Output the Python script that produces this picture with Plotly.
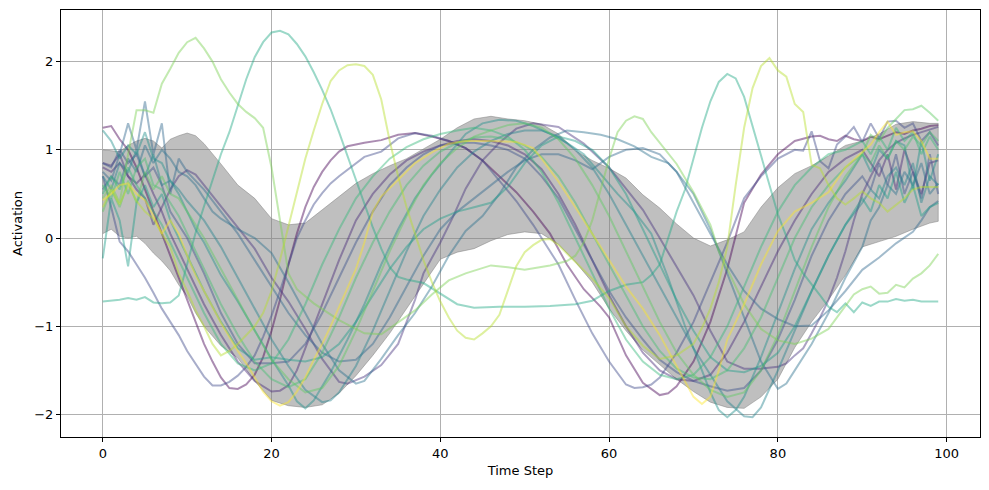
import plotly.graph_objects as go

# ---- band (mean +/- std) ----
band_t = [0, 1, 2, 3, 4, 5, 6, 7, 8, 9, 10, 11, 12, 14, 16, 18, 20, 22, 24, 26, 28, 30, 32, 34, 36, 38, 40,
          42, 44, 46, 48, 50, 52, 54, 56, 58, 60, 62, 64, 66, 68, 70, 72, 74, 76, 78, 80, 82, 84, 86, 88,
          90, 92, 94, 96, 98, 99]
band_upper = [1.0, 0.99, 0.98, 1.05, 1.1, 1.13, 1.1, 1.02, 1.12, 1.16, 1.19, 1.16, 1.07, 0.84, 0.6, 0.45, 0.22,
              0.15, 0.17, 0.32, 0.47, 0.62, 0.73, 0.82, 0.9, 1.01, 1.12, 1.25, 1.35, 1.38, 1.35, 1.33, 1.29,
              1.18, 0.99, 0.88, 0.79, 0.68, 0.49, 0.34, 0.16, 0.0, -0.09, -0.02, 0.07, 0.35, 0.57, 0.73,
              0.82, 0.93, 1.05, 1.1, 1.18, 1.29, 1.32, 1.3, 1.3]
band_lower = [0.05, 0.1, 0.02, 0.0, 0.02, -0.06, -0.17, -0.26, -0.37, -0.53, -0.66, -0.85, -1.0, -1.22, -1.36,
              -1.62, -1.84, -1.9, -1.92, -1.89, -1.76, -1.56, -1.33, -1.08, -0.8, -0.52, -0.24, -0.16, -0.12,
              -0.03, 0.04, 0.07, 0.05, -0.07, -0.27, -0.5, -0.8, -1.05, -1.27, -1.43, -1.6, -1.74, -1.86,
              -1.92, -1.93, -1.8, -1.6, -1.24, -0.95, -0.7, -0.42, -0.1, -0.04, 0.02, 0.1, 0.17, 0.19]

# ---- individual activation traces: (time step, value) readings ----
T1 = [(0,-0.72),(1,-0.71),(2,-0.70),(3,-0.68),(4,-0.70),(5,-0.67),(6,-0.73),(7,-0.74),(8,-0.73),(9,-0.65),(10,-0.28),(11,0.06),(12,0.36),(13,0.66),(14,0.95),(15,1.2),(16,1.5),(17,1.8),(18,2.05),(19,2.22),(20,2.33),(21,2.35),(22,2.31),(23,2.2),(24,2.06),(25,1.88),(26,1.68),(27,1.46),(28,1.2),(29,0.93),(30,0.66),(31,0.38),(32,0.12),(33,-0.12),(34,-0.33),(35,-0.44),(36,-0.47),(38,-0.51),(40,-0.63),(42,-0.75),(44,-0.79),(47,-0.78),(50,-0.78),(53,-0.77),(56,-0.75),(58,-0.71),(60,-0.6),(62,-0.53),(64,-0.5),(65,-0.42),(66,-0.3),(67,0.0),(68,0.3),(69,0.55),(70,0.9),(71,1.25),(72,1.55),(73,1.77),(74,1.86),(75,1.81),(76,1.6),(77,1.27),(78,0.92),(79,0.58),(80,0.27),(81,0.02),(82,-0.25),(83,-0.4),(84,-0.52),(85,-0.65),(86,-0.78),(87,-0.84),(88,-0.74),(89,-0.84),(90,-0.73),(91,-0.77),(92,-0.72),(93,-0.72),(94,-0.69),(95,-0.71),(96,-0.7),(97,-0.72),(98,-0.72),(99,-0.72)]
G1 = [(0,0.45),(1,0.6),(2,0.4),(3,0.95),(4,1.45),(5,1.45),(6,1.42),(7,1.75),(8,1.92),(9,2.1),(10,2.22),(11,2.27),(12,2.15),(13,2.0),(14,1.8),(15,1.65),(16,1.52),(17,1.43),(18,1.36),(19,1.25),(20,0.8),(21,0.2),(22,-0.4),(23,-0.58),(25,-0.74),(28,-0.93),(31,-1.08),(33,-1.09),(35,-0.95),(37,-0.82),(39,-0.64),(41,-0.48),(43,-0.4),(46,-0.31),(48,-0.33),(50,-0.36),(53,-0.31),(55,-0.26),(56,-0.2),(57,-0.05),(58,0.2),(59,0.55),(60,0.9),(61,1.2),(62,1.33),(63,1.38),(64,1.35),(65,1.2),(66,1.08),(68,0.84),(70,0.52),(72,0.15),(73,-0.15),(74,-0.35),(76,-0.75),(78,-1.03),(80,-1.16),(82,-1.2),(84,-1.14),(86,-1.03),(87,-0.9),(88,-0.78),(89,-0.64),(90,-0.58),(91,-0.55),(92,-0.63),(93,-0.62),(94,-0.53),(95,-0.56),(96,-0.46),(97,-0.4),(98,-0.31),(99,-0.18)]
Y1 = [(0,0.35),(1,0.55),(2,0.38),(3,0.6),(4,0.42),(5,0.3),(6,0.22),(7,0.05),(8,-0.1),(9,-0.4),(10,-0.6),(11,-0.82),(12,-1.0),(13,-1.2),(14,-1.33),(15,-1.28),(16,-1.2),(17,-1.1),(18,-1.0),(19,-0.85),(20,-0.6),(21,-0.25),(22,0.13),(23,0.5),(24,0.9),(25,1.22),(26,1.52),(27,1.78),(28,1.9),(29,1.96),(30,1.97),(31,1.95),(32,1.85),(33,1.57),(34,1.1),(35,0.7),(36,0.35),(37,0.05),(38,-0.25),(39,-0.5),(40,-0.72),(41,-0.9),(42,-1.05),(43,-1.13),(44,-1.15),(45,-1.08),(46,-1.0),(47,-0.87),(48,-0.6),(49,-0.32),(50,-0.16),(51,-0.08),(52,-0.02),(53,-0.01),(54,-0.08),(56,-0.27),(58,-0.46),(60,-0.68),(62,-1.0),(64,-1.22),(66,-1.37),(68,-1.33),(70,-1.2),(71,-1.02),(72,-0.8),(73,-0.5),(74,-0.1),(75,0.6),(76,1.25),(77,1.7),(78,1.95),(79,2.04),(80,1.9),(81,1.83),(82,1.52),(83,1.43),(84,0.83),(85,0.79),(86,0.6),(87,0.45),(88,0.38),(89,0.45),(90,0.53),(91,0.45),(92,0.4),(93,0.3),(94,0.38),(95,0.45),(96,0.55),(97,0.58),(98,0.58),(99,0.58)]
B1 = [(0,0.7),(1,0.35),(2,-0.04),(3,-0.15),(4,-0.3),(5,-0.45),(6,-0.62),(7,-0.8),(8,-0.95),(9,-1.1),(10,-1.28),(11,-1.42),(12,-1.57),(13,-1.67),(14,-1.67),(15,-1.63),(16,-1.56),(17,-1.46),(18,-1.33),(19,-1.12),(20,-0.88),(21,-0.6),(22,-0.3),(23,0.0),(24,0.2),(25,0.38),(26,0.51),(27,0.62),(28,0.7),(29,0.77),(31,0.92),(33,0.98),(35,1.13),(37,1.19),(39,1.16),(41,1.1),(43,1.02),(45,0.88),(47,0.65),(49,0.42),(51,0.15),(53,-0.15),(54,-0.3),(56,-0.7),(58,-1.08),(60,-1.4),(62,-1.66),(63,-1.7),(64,-1.69),(65,-1.66),(66,-1.58),(68,-1.3),(70,-0.95),(72,-0.5),(74,-0.05),(76,0.45),(78,0.7),(80,0.9),(82,1.0),(83,0.99),(84,1.21),(85,0.87),(86,0.79),(87,1.06),(88,1.15),(89,1.26),(90,1.09),(91,1.3),(92,1.13),(93,1.32),(94,1.33),(95,1.25),(96,1.3),(97,1.1),(98,1.2),(99,1.05)]
P1 = [(0,1.25),(1,1.27),(2,1.12),(3,1.0),(4,0.8),(5,0.55),(6,0.3),(7,0.05),(8,-0.2),(9,-0.45),(10,-0.7),(11,-0.95),(12,-1.2),(13,-1.4),(14,-1.58),(15,-1.7),(16,-1.71),(17,-1.66),(18,-1.55),(19,-1.35),(20,-1.05),(21,-0.7),(22,-0.3),(23,0.05),(24,0.35),(25,0.58),(26,0.75),(27,0.88),(28,0.98),(29,1.04),(31,1.08),(33,1.11),(35,1.17),(37,1.19),(39,1.15),(41,1.1),(43,1.02),(45,0.88),(47,0.7),(49,0.52),(51,0.3),(53,0.05),(55,-0.3),(57,-0.58),(59,-0.78),(60,-0.9),(62,-1.33),(64,-1.64),(66,-1.78),(67,-1.76),(68,-1.68),(70,-1.4),(72,-0.95),(74,-0.35),(76,0.4),(78,0.72),(80,0.95),(82,1.1),(84,1.15),(85,1.16),(86,1.12),(87,1.1),(88,1.16),(89,1.12),(90,1.1),(91,1.15),(92,1.12),(93,1.16),(94,1.2),(95,1.18),(96,1.22),(97,1.24),(98,1.27),(99,1.28)]
Y2 = [(0,0.43),(1,0.5),(2,0.6),(3,0.62),(4,0.5),(5,0.43),(6,0.25),(7,0.05),(8,0.2),(9,0.05),(10,-0.2),(11,-0.42),(12,-0.6),(13,-0.78),(14,-0.96),(15,-1.12),(16,-1.28),(17,-1.42),(18,-1.58),(19,-1.74),(20,-1.85),(21,-1.9),(22,-1.86),(23,-1.74),(24,-1.58),(25,-1.38),(26,-1.2),(27,-1.0),(28,-0.78),(29,-0.57),(30,-0.35),(31,-0.05),(32,0.3),(33,0.47),(35,0.66),(37,0.85),(39,0.97),(41,1.07),(43,1.1),(46,1.1),(49,1.09),(51,1.02),(52,0.9),(54,0.64),(56,0.35),(58,0.05),(60,-0.25),(62,-0.55),(64,-0.8),(66,-1.1),(68,-1.45),(70,-1.8),(71,-1.88),(72,-1.8),(73,-1.5),(74,-1.15),(76,-0.75),(78,-0.3),(80,0.08),(82,0.3),(84,0.4),(86,0.52),(88,0.8),(90,0.98),(91,1.06),(92,1.2),(93,1.32),(94,1.17),(95,1.2),(96,1.21),(97,1.1),(98,0.9),(99,0.9)]
P2 = [(0,0.8),(1,0.75),(2,0.85),(3,0.7),(4,0.62),(5,0.72),(6,0.5),(7,0.3),(8,0.05),(9,-0.15),(10,-0.35),(12,-0.75),(14,-1.1),(16,-1.4),(18,-1.62),(20,-1.74),(21,-1.73),(22,-1.67),(23,-1.5),(24,-1.25),(26,-0.75),(28,-0.25),(30,0.2),(32,0.5),(34,0.72),(36,0.88),(38,0.98),(40,1.05),(42,1.1),(44,1.12),(46,1.1),(48,1.05),(50,0.95),(52,0.78),(54,0.5),(56,0.15),(58,-0.25),(60,-0.65),(62,-1.0),(64,-1.3),(66,-1.5),(68,-1.6),(70,-1.62),(72,-1.55),(74,-1.3),(76,-0.95),(78,-0.55),(80,-0.15),(82,0.2),(84,0.5),(86,0.75),(88,0.9),(90,1.0),(91,0.85),(92,0.7),(93,0.95),(94,0.55),(95,1.0),(96,0.75),(97,0.5),(98,0.85),(99,0.88)]
P3 = [(0,0.85),(1,0.82),(2,0.95),(3,0.7),(4,0.55),(5,0.45),(6,0.15),(7,0.35),(8,0.55),(9,0.7),(10,0.77),(11,0.72),(12,0.6),(13,0.48),(14,0.36),(15,0.25),(16,0.13),(17,0.0),(18,-0.12),(20,-0.45),(22,-0.72),(24,-1.03),(26,-1.37),(28,-1.63),(29,-1.65),(31,-1.57),(33,-1.44),(35,-1.2),(37,-0.7),(38,-0.4),(40,-0.05),(41.5,0.24),(43,0.56),(45,0.88),(47,1.08),(49,1.24),(51,1.3),(54,1.26),(57,1.07),(60,0.8),(62,0.56),(64,0.32),(66,0.0),(68,-0.32),(70,-0.65),(72,-1.05),(74,-1.4),(76,-1.48),(78,-1.48),(80,-1.46),(81,-1.42),(82,-1.33),(83,-1.25),(84,-1.08),(85,-0.9),(86,-0.7),(87,-0.45),(88,-0.15),(89,0.2),(90,0.5),(91,0.7),(92,0.88),(93,1.0),(94,1.08),(95,1.13),(96,1.17),(97,1.2),(98,1.23),(99,1.26)]
TA = [(0,1.22),(1,1.1),(2,0.9),(3,1.05),(4,0.95),(5,1.2),(6,0.9),(7,0.85),(8,0.65),(9,0.5),(10,0.3),(11,0.1),(12,-0.05),(14,-0.42),(16,-0.72),(18,-1.05),(20,-1.37),(22,-1.67),(23,-1.85),(24,-1.93),(25,-1.84),(26,-1.68),(27,-1.52),(29,-1.15),(31,-0.75),(33,-0.3),(35,0.1),(37,0.45),(39,0.72),(41,0.95),(43,1.18),(45,1.3),(47,1.34),(49,1.33),(51,1.27),(53,1.18),(55,1.08),(57,0.95),(59,0.72),(61,0.5),(63,0.3),(65,0.05),(67,-0.45),(69,-1.0),(71,-1.5),(72,-1.75),(73,-1.95),(74,-2.03),(75,-1.95),(76,-1.8),(78,-1.35),(80,-0.85),(82,-0.35),(84,0.1),(86,0.4),(88,0.65),(89,0.8),(90,0.95),(91,0.75),(92,1.0),(93,0.9),(94,1.1),(95,1.05),(96,0.55),(97,1.1),(98,0.65),(99,0.95)]
TB = [(0,0.7),(1,0.55),(2,0.85),(3,0.75),(4,1.0),(5,0.7),(6,0.95),(7,0.6),(8,0.65),(9,0.55),(10,0.42),(12,0.2),(14,-0.1),(16,-0.45),(18,-0.8),(20,-1.15),(22,-1.45),(24,-1.72),(26,-1.86),(27,-1.84),(28,-1.75),(30,-1.45),(32,-1.05),(34,-0.6),(36,-0.15),(38,0.25),(40,0.55),(42,0.8),(44,0.98),(46,1.1),(48,1.18),(50,1.22),(52,1.22),(54,1.15),(56,1.0),(58,0.8),(60,0.5),(62,0.15),(64,-0.2),(66,-0.55),(68,-0.9),(70,-1.25),(72,-1.55),(74,-1.85),(76,-2.02),(77,-2.03),(78,-1.92),(80,-1.5),(82,-1.05),(84,-0.6),(86,-0.2),(88,0.15),(90,0.4),(91,0.55),(92,0.45),(93,0.7),(94,0.8),(95,0.6),(96,0.85),(97,0.4),(98,0.7),(99,0.6)]
TC = [(0,0.55),(1,0.7),(2,0.6),(3,0.9),(4,0.75),(5,1.05),(6,0.85),(7,1.0),(8,0.9),(9,0.75),(10,0.7),(11,0.6),(12,0.45),(13,0.3),(14,0.22),(16,0.1),(18,0.0),(20,-0.17),(22,-0.5),(24,-0.85),(26,-1.2),(28,-1.5),(30,-1.65),(31,-1.62),(33,-1.37),(35,-1.1),(37,-0.85),(39,-0.55),(41,-0.2),(43,0.08),(45,0.25),(47,0.5),(49,0.8),(51,1.0),(53,1.14),(55,1.22),(57,1.2),(59,1.17),(61,1.12),(63,1.04),(65,0.92),(67,0.85),(68,0.75),(70,0.5),(72,0.1),(74,-0.4),(76,-0.9),(78,-1.4),(80,-1.71),(81,-1.65),(82,-1.5),(84,-1.2),(86,-0.85),(88,-0.45),(90,-0.1),(91,0.2),(92,0.35),(93,0.6),(94,0.5),(95,0.75),(96,0.6),(97,0.85),(98,0.5),(99,0.62)]
D1 = [(0,-0.23),(1,0.45),(2,0.2),(3,-0.32),(4,0.4),(5,0.6),(6,0.35),(7,0.5),(8,0.2),(9,0.0),(10,-0.2),(12,-0.6),(14,-0.95),(16,-1.25),(18,-1.38),(20,-1.35),(22,-1.38),(24,-1.4),(26,-1.35),(28,-1.2),(30,-0.95),(32,-0.65),(34,-0.35),(36,-0.1),(38,0.1),(40,0.22),(42,0.3),(44,0.35),(46,0.4),(48,0.58),(50,0.85),(52,1.05),(54,1.15),(56,1.1),(58,1.0),(60,0.8),(62,0.5),(64,0.1),(66,-0.3),(68,-0.7),(70,-1.05),(72,-1.35),(74,-1.5),(76,-1.52),(78,-1.45),(80,-1.3),(82,-1.0),(84,-0.6),(86,-0.2),(88,0.15),(90,0.45),(91,0.3),(92,0.6),(93,0.45),(94,0.75),(95,0.4),(96,0.6),(97,0.25),(98,0.35),(99,0.4)]
H1 = [(0,0.75),(1,0.65),(2,0.95),(3,1.3),(4,1.0),(5,1.55),(6,0.95),(7,1.3),(8,0.5),(9,0.9),(10,0.75),(12,0.55),(14,0.3),(16,0.05),(18,-0.25),(20,-0.55),(22,-0.85),(24,-1.1),(26,-1.3),(28,-1.4),(30,-1.38),(32,-1.2),(34,-0.9),(36,-0.55),(38,-0.2),(40,0.1),(42,0.3),(44,0.45),(46,0.6),(48,0.75),(50,0.88),(52,0.95),(54,0.95),(56,0.88),(58,0.78),(60,0.92),(62,1.0),(64,1.02),(66,0.95),(68,0.75),(70,0.4),(72,0.05),(74,-0.3),(76,-0.6),(78,-0.8),(80,-0.92),(82,-1.0),(84,-0.99),(86,-0.82),(88,-0.6),(90,-0.36),(92,-0.22),(94,-0.06),(96,0.07),(97,0.2),(98,0.35),(99,0.42)]
E1 = [(0,0.6),(1,0.45),(2,0.75),(3,0.5),(4,0.8),(5,0.9),(6,0.6),(7,0.55),(8,0.4),(9,0.25),(10,0.05),(12,-0.35),(14,-0.75),(16,-1.1),(18,-1.4),(20,-1.6),(22,-1.69),(24,-1.6),(26,-1.3),(28,-0.9),(30,-0.45),(32,-0.05),(34,0.3),(36,0.6),(38,0.82),(40,0.98),(42,1.08),(44,1.14),(46,1.15),(48,1.12),(50,1.05),(52,0.92),(54,0.7),(56,0.4),(58,0.05),(60,-0.3),(62,-0.65),(64,-1.0),(66,-1.28),(68,-1.48),(70,-1.58),(72,-1.6),(74,-1.5),(76,-1.25),(78,-0.9),(80,-0.45),(82,0.0),(84,0.35),(86,0.6),(88,0.8),(90,0.95),(91,0.85),(92,1.05),(93,0.9),(94,1.1),(95,1.0),(96,1.15),(97,1.05),(98,1.2),(99,1.1)]
F1 = [(0,0.3),(1,0.55),(2,0.35),(3,0.65),(4,0.4),(5,0.75),(6,0.55),(7,0.7),(8,0.5),(9,0.45),(10,0.3),(12,0.0),(14,-0.35),(16,-0.7),(18,-1.05),(20,-1.38),(22,-1.6),(24,-1.75),(26,-1.7),(28,-1.45),(30,-1.05),(32,-0.6),(34,-0.15),(36,0.25),(38,0.6),(40,0.85),(42,1.02),(44,1.15),(46,1.22),(48,1.28),(50,1.3),(52,1.25),(54,1.12),(56,0.9),(58,0.6),(60,0.25),(62,-0.15),(64,-0.55),(66,-0.95),(68,-1.3),(70,-1.55),(72,-1.72),(74,-1.8),(76,-1.75),(78,-1.5),(80,-1.1),(82,-0.6),(84,-0.1),(86,0.35),(88,0.7),(90,0.95),(91,1.17),(92,1.1),(93,1.25),(94,1.35),(95,1.45),(96,1.46),(97,1.5),(98,1.42),(99,1.33)]
G2 = [(0,0.85),(1,0.8),(2,1.0),(3,0.85),(4,0.95),(5,0.7),(6,0.8),(7,0.6),(8,0.3),(9,0.15),(10,0.0),(12,-0.4),(14,-0.85),(16,-1.2),(18,-1.42),(20,-1.42),(22,-1.4),(24,-1.2),(26,-0.85),(28,-0.45),(30,-0.05),(32,0.3),(34,0.6),(36,0.8),(38,0.95),(40,1.05),(42,1.08),(44,1.08),(46,1.05),(48,1.0),(50,0.9),(52,0.7),(54,0.45),(56,0.1),(58,-0.25),(60,-0.6),(62,-0.9),(64,-1.15),(66,-1.38),(68,-1.52),(70,-1.62),(72,-1.68),(74,-1.73),(76,-1.7),(78,-1.5),(80,-1.15),(82,-0.7),(84,-0.2),(86,0.2),(88,0.5),(90,0.7),(91,0.55),(92,0.85),(93,0.6),(94,0.95),(95,0.5),(96,0.75),(97,0.45),(98,0.95),(99,0.5)]
Z1 = [(0,0.5),(1,0.7),(2,0.55),(3,0.8),(4,0.6),(5,0.45),(6,0.3),(7,0.15),(8,-0.05),(10,-0.45),(12,-0.85),(14,-1.2),(16,-1.42),(18,-1.5),(20,-1.42),(22,-1.15),(24,-0.75),(26,-0.3),(28,0.1),(30,0.45),(32,0.7),(34,0.9),(36,1.03),(38,1.12),(40,1.18),(42,1.22),(44,1.25),(46,1.22),(48,1.15),(50,1.0),(52,0.75),(54,0.4),(56,0.0),(58,-0.4),(60,-0.8),(62,-1.15),(64,-1.4),(66,-1.55),(68,-1.6),(70,-1.55),(72,-1.35),(74,-1.0),(76,-0.55),(78,-0.1),(80,0.3),(82,0.6),(84,0.8),(86,0.95),(88,1.0),(90,1.1),(91,0.95),(92,1.15),(93,1.0),(94,1.25),(95,1.1),(96,1.2),(97,0.95),(98,1.15),(99,1.0)]

series = [
    ("P1", "#440154", P1), ("P2", "#482878", P2), ("P3", "#46337e", P3),
    ("B1", "#3e4989", B1), ("G2", "#3b528b", G2), ("H1", "#31688e", H1),
    ("TC", "#2c728e", TC), ("TB", "#26828e", TB), ("TA", "#21918c", TA),
    ("D1", "#1f9e89", D1), ("T1", "#22a884", T1), ("Z1", "#35b779", Z1),
    ("E1", "#44bf70", E1), ("F1", "#5ec962", F1), ("G1", "#7ad151", G1),
    ("Y1", "#b5de2b", Y1), ("Y2", "#fde725", Y2),
]


def rgba(hex_color, a):
    h = hex_color.lstrip("#")
    r, g, b = int(h[0:2], 16), int(h[2:4], 16), int(h[4:6], 16)
    return f"rgba({r},{g},{b},{a})"


fig = go.Figure()

# band
fig.add_trace(go.Scatter(
    x=band_t + band_t[::-1],
    y=band_upper + band_lower[::-1],
    fill="toself",
    fillcolor="rgba(128,128,128,0.5)",
    line=dict(color="rgba(128,128,128,0.5)", width=1),
    mode="lines",
    hoverinfo="skip",
    showlegend=False,
))

for name, color, pts in series:
    fig.add_trace(go.Scatter(
        x=[p[0] for p in pts],
        y=[p[1] for p in pts],
        mode="lines",
        line=dict(color=rgba(color, 0.45), width=2),
        name=name,
        showlegend=False,
    ))

font = dict(family="DejaVu Sans", size=13, color="black")
axis_common = dict(
    showgrid=True, gridcolor="#b0b0b0", gridwidth=1,
    showline=True, linecolor="black", linewidth=1, mirror=True,
    ticks="outside", ticklen=4, tickwidth=1, tickcolor="black",
    zeroline=False, tickfont=font,
)
fig.update_layout(
    width=989, height=490,
    margin=dict(l=61, r=9, t=10, b=53),
    paper_bgcolor="white", plot_bgcolor="white",
    font=font,
    xaxis=dict(range=[-4.95, 103.95], tickvals=[0, 20, 40, 60, 80, 100],
               title=dict(text="Time Step", font=font, standoff=6), **axis_common),
    yaxis=dict(range=[-2.255, 2.585], tickvals=[-2, -1, 0, 1, 2],
               title=dict(text="Activation", font=font, standoff=8), **axis_common),
)

fig.write_html("out.html")
